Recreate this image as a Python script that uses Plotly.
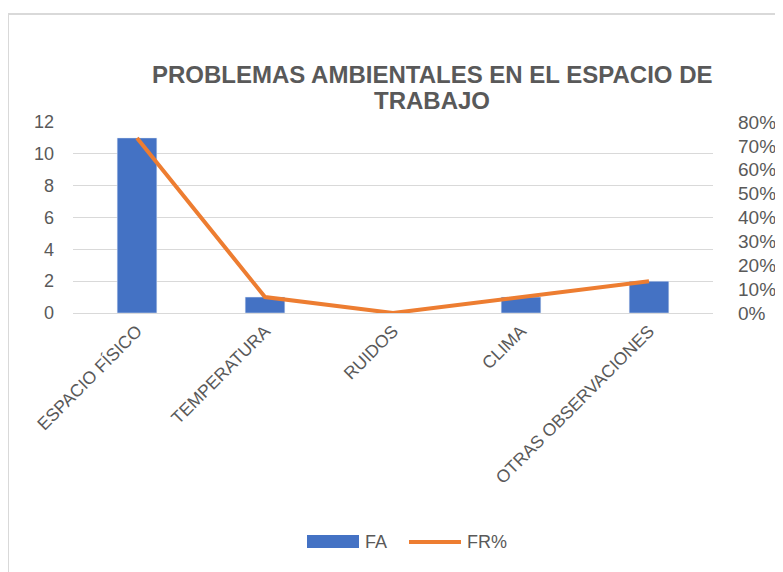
import plotly.graph_objects as go

categories = ["ESPACIO FÍSICO", "TEMPERATURA", "RUIDOS", "CLIMA", "OTRAS OBSERVACIONES"]
fa = [11, 1, 0, 1, 2]
fr_pct = [0.733, 0.067, 0.0, 0.067, 0.133]
title_lines = ["PROBLEMAS AMBIENTALES EN EL ESPACIO DE", "TRABAJO"]
series_names = ["FA", "FR%"]
series_colors = ["#4472C4", "#ED7D31"]

OFF = 8  # page body margin
W, H = 783, 572
PL, PR, PT, PB = 73, 713, 122, 313  # plot box in screen pixels
L, T = PL - OFF, PT - OFF
R, B = W - (PR - OFF), H - (PB - OFF)
pw, ph = PR - PL, PB - PT

def px(x):
    return (x - PL) / pw

def py(y):
    return (PB - y) / ph

fig = go.Figure()
fig.add_trace(go.Bar(x=categories, y=fa, name=series_names[0], marker_color=series_colors[0],
                     width=0.31))
fig.add_trace(go.Scatter(x=categories, y=fr_pct, name=series_names[1], mode="lines",
                         line=dict(color=series_colors[1], width=4), yaxis="y2"))

font = dict(family="Liberation Sans, Arial", color="#595959", size=16)
fig.update_layout(
    width=W, height=H,
    margin=dict(l=L, r=R, t=T, b=B, autoexpand=False),
    paper_bgcolor="white", plot_bgcolor="white",
    font=font,
    showlegend=False,
    xaxis=dict(tickangle=-45, showgrid=False, showline=True, linecolor="#d9d9d9",
               ticks="", tickfont=dict(size=17.5, color="#595959")),
    yaxis=dict(range=[0, 12], dtick=2, gridcolor="#d9d9d9", zeroline=False,
               ticks="", tickfont=dict(size=18), ticklabelstandoff=18),
    yaxis2=dict(range=[0, 0.8], dtick=0.1, tickformat=".0%", overlaying="y", side="right",
                showgrid=False, zeroline=False, ticks="", tickfont=dict(size=19),
                ticklabelstandoff=24),
)
for line, yy in zip(title_lines, [75, 101]):
    fig.add_annotation(text="<b>" + line + "</b>", xref="paper", yref="paper",
                       x=px(432), y=py(yy), xanchor="center", yanchor="middle", showarrow=False,
                       font=dict(family="Liberation Sans, Arial", size=24, color="#595959"))

# custom legend (Excel-style wide swatches)
fig.add_shape(type="rect", xref="paper", yref="paper",
              x0=px(307), x1=px(359), y0=py(548), y1=py(535),
              line=dict(width=0), fillcolor=series_colors[0])
fig.add_annotation(text=series_names[0], xref="paper", yref="paper", x=px(363), y=py(542),
                   xanchor="left", yanchor="middle", showarrow=False,
                   font=dict(size=18, color="#595959"))
fig.add_shape(type="line", xref="paper", yref="paper",
              x0=px(409), x1=px(461), y0=py(542), y1=py(542),
              line=dict(color=series_colors[1], width=4))
fig.add_annotation(text=series_names[1], xref="paper", yref="paper", x=px(465), y=py(542),
                   xanchor="left", yanchor="middle", showarrow=False,
                   font=dict(size=18, color="#595959"))

fig.add_shape(type="rect", xref="paper", yref="paper",
              x0=px(8), x1=px(W + 20), y0=py(H + 20), y1=py(14),
              line=dict(color="#d9d9d9", width=2), fillcolor="rgba(0,0,0,0)", layer="below")
fig.write_html("out.html")
